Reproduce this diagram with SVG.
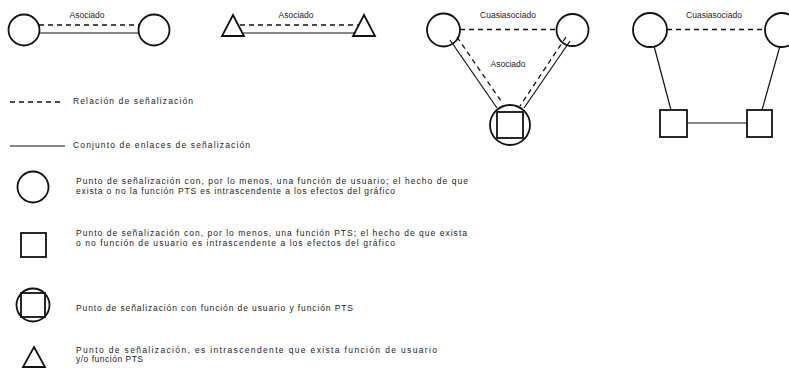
<svg xmlns="http://www.w3.org/2000/svg" width="789" height="372" viewBox="0 0 789 372">
<style>
.n{fill:none;stroke:#111;stroke-width:1.8}
.s{fill:none;stroke:#111;stroke-width:1.2}
.d{fill:none;stroke:#111;stroke-width:1.3;stroke-dasharray:5 4}
text{font-family:"Liberation Sans",Arial,sans-serif;font-size:8.5px;fill:#222}
</style>
<rect width="789" height="372" fill="#fff"/>
<g id="connectors">
<line class="d" x1="39" y1="25" x2="139" y2="25"/>
<line class="s" x1="40" y1="33" x2="139" y2="33"/>
<line class="d" x1="240" y1="25" x2="358" y2="25"/>
<line class="s" x1="243" y1="33" x2="356" y2="33"/>
<line class="d" x1="460" y1="29.5" x2="557" y2="29.5"/>
<line class="s" x1="450" y1="40" x2="497" y2="108"/>
<line class="d" x1="457" y1="37" x2="503" y2="104"/>
<line class="d" x1="566" y1="37" x2="520" y2="106"/>
<line class="s" x1="570" y1="41" x2="524" y2="108"/>
<line class="d" x1="667" y1="29.5" x2="765" y2="29.5"/>
<line class="s" x1="654" y1="46" x2="671" y2="110"/>
<line class="s" x1="780" y1="46" x2="762" y2="110"/>
<line class="s" x1="687" y1="123" x2="747" y2="123"/>
</g>
<g id="labels">
<text x="87" y="18" text-anchor="middle">Asociado</text>
<text x="296" y="18" text-anchor="middle">Asociado</text>
<text x="508" y="18" text-anchor="middle">Cuasiasociado</text>
<text x="508" y="67" text-anchor="middle">Asociado</text>
<text x="714" y="18" text-anchor="middle">Cuasiasociado</text>
</g>
<g id="a1"><circle class="n" cx="24" cy="30" r="15.5"/></g>
<g id="a2"><circle class="n" cx="154" cy="30" r="15.5"/></g>
<g id="t1"><polygon class="n" points="233,15 244,36 222,36"/></g>
<g id="t2"><polygon class="n" points="364,15 375,36 353,36"/></g>
<g id="c1"><circle class="n" cx="443.5" cy="30" r="16.5"/></g>
<g id="c2"><circle class="n" cx="572.5" cy="30" r="16"/></g>
<g id="c3"><circle class="n" cx="510" cy="125" r="20"/><rect class="n" x="497" y="112" width="26" height="26"/></g>
<g id="d1"><circle class="n" cx="650" cy="30" r="17"/></g>
<g id="d2"><circle class="n" cx="782" cy="30" r="17"/></g>
<g id="s1"><rect class="n" x="660" y="110" width="27" height="27"/></g>
<g id="s2"><rect class="n" x="747" y="110" width="25" height="27"/></g>
<g id="legend-rel">
<line class="d" x1="10" y1="102" x2="64" y2="102"/>
<text x="73" y="104" textLength="120">Relación de señalización</text>
</g>
<g id="legend-set">
<line class="s" x1="10" y1="146" x2="65" y2="146"/>
<text x="73" y="148" textLength="177">Conjunto de enlaces de señalización</text>
</g>
<g id="legend-circle">
<circle class="n" cx="33" cy="187" r="15.5"/>
<text x="76" y="184" textLength="392">Punto de señalización con, por lo menos, una función de usuario; el hecho de que</text>
<text x="76" y="194" textLength="319">exista o no la función PTS es intrascendente a los efectos del gráfico</text>
</g>
<g id="legend-square">
<rect class="n" x="21" y="233" width="25" height="24"/>
<text x="76" y="236" textLength="391">Punto de señalización con, por lo menos, una función PTS; el hecho de que exista</text>
<text x="76" y="246" textLength="319">o no función de usuario es intrascendente a los efectos del gráfico</text>
</g>
<g id="legend-both">
<circle class="n" cx="33" cy="305" r="16.5"/>
<rect class="n" x="21" y="293" width="24" height="24"/>
<text x="76" y="311" textLength="277">Punto de señalización con función de usuario y función PTS</text>
</g>
<g id="legend-tri">
<polygon class="n" points="34,347 45,367 23,367"/>
<text x="76" y="353" textLength="361">Punto de señalización, es intrascendente que exista función de usuario</text>
<text x="76" y="362" textLength="67">y/o función PTS</text>
</g>
</svg>
